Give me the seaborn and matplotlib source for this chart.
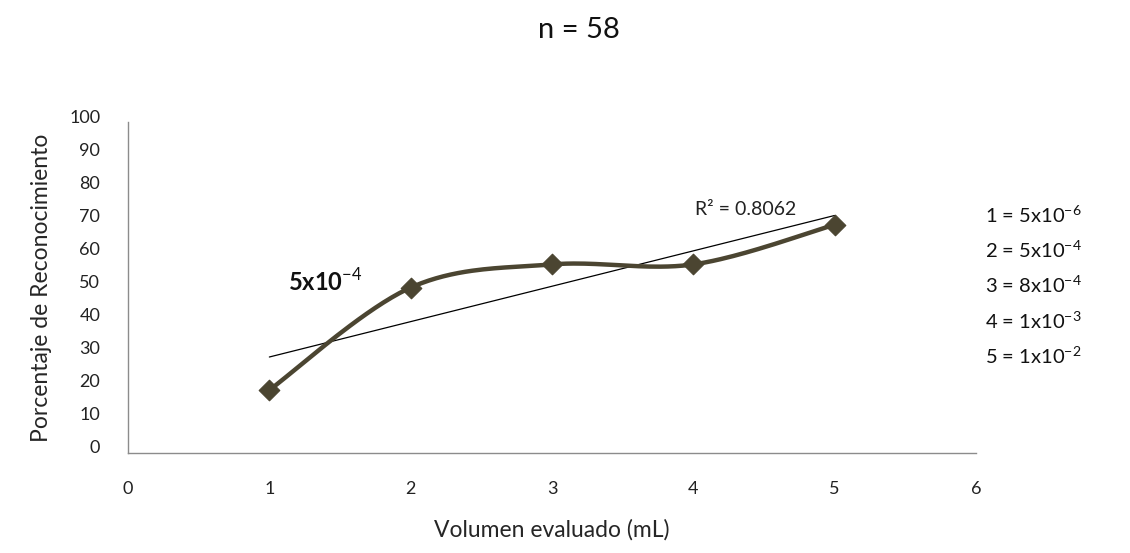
import numpy as np
import pandas as pd
import matplotlib
matplotlib.use("Agg")
import matplotlib.pyplot as plt
import matplotlib.transforms as mtransforms
import seaborn as sns

# data
volumen = [1, 2, 3, 4, 5]
reconocimiento = [19, 50, 57, 57, 69]
r2_text = "R² = 0.8062"
legend_lines = ["1 = 5x10$^{-6}$", "2 = 5x10$^{-4}$", "3 = 8x10$^{-4}$",
                "4 = 1x10$^{-3}$", "5 = 1x10$^{-2}$"]

line_color = "#4b4531"
axis_color = "#8c8c8c"

sns.set_style("white")
plt.rcParams["font.family"] = ["Lato", "DejaVu Sans"]
plt.rcParams["mathtext.fontset"] = "custom"
plt.rcParams["mathtext.rm"] = "Lato"


def smooth_curve(x, y, steps=40):
    # Catmull-Rom style bezier smoothing (like a spreadsheet "smoothed line")
    p = np.column_stack([x, y]).astype(float)
    pts = np.vstack([p[0], p, p[-1]])
    out = []
    for i in range(1, len(pts) - 2):
        p0, p1, p2, p3 = pts[i - 1], pts[i], pts[i + 1], pts[i + 2]
        c1 = p1 + (p2 - p0) / 6
        c2 = p2 - (p3 - p1) / 6
        t = np.linspace(0, 1, steps)[:, None]
        seg = ((1 - t) ** 3) * p1 + 3 * ((1 - t) ** 2) * t * c1 + 3 * (1 - t) * t ** 2 * c2 + t ** 3 * p2
        out.append(seg)
    out = np.vstack(out)
    return out[:, 0], out[:, 1]


df = pd.DataFrame({"x": volumen, "y": reconocimiento})
sx, sy = smooth_curve(volumen, reconocimiento)
curve = pd.DataFrame({"x": sx, "y": sy})

fig = plt.figure(figsize=(11.3, 5.53), dpi=100)
ax = fig.add_axes([0.1133, 0.181, 0.7504, 0.598])

sns.regplot(data=df, x="x", y="y", ax=ax, scatter=False, ci=None, truncate=True,
            line_kws={"color": "black", "linewidth": 0.9})
sns.lineplot(data=curve, x="x", y="y", ax=ax, color=line_color, linewidth=3.2,
             sort=False, estimator=None)
sns.scatterplot(data=df, x="x", y="y", ax=ax, marker="D", s=110, color=line_color,
                edgecolor=line_color, zorder=5)

ax.set_xlim(0, 6)
ax.set_ylim(0, 100)
ax.set_xticks(range(0, 7))
ax.set_yticks(range(0, 101, 10))
ax.set_xlabel("Volumen evaluado (mL)", fontsize=16.5, labelpad=16)
ax.set_ylabel("Porcentaje de Reconocimiento", fontsize=16.5, labelpad=12)

for side in ["top", "right"]:
    ax.spines[side].set_visible(False)
for side in ["left", "bottom"]:
    ax.spines[side].set_color(axis_color)
    ax.spines[side].set_linewidth(1.0)

ax.tick_params(axis="both", direction="in", length=7, width=1, color=axis_color,
               labelsize=13, labelcolor="#222222")
ax.tick_params(axis="x", pad=20)
ax.tick_params(axis="y", pad=20)
offset = mtransforms.ScaledTranslation(0, 6 / 100, fig.dpi_scale_trans)
for lab in ax.get_yticklabels():
    lab.set_transform(lab.get_transform() + offset)

ax.text(1.13, 52, "5x10$^{-4}$", fontsize=17, fontweight="bold", color="#111111",
        va="center")
ax.text(4.37, 73.5, r2_text, fontsize=14, color="#222222", ha="center", va="center")

for i, t in enumerate(legend_lines):
    fig.text(0.872, 0.611 - i * 0.0635, t, fontsize=14.5, color="#111111", va="center")

fig.text(0.512, 0.945, "n = 58", fontsize=21, ha="center", va="center", color="#111111")

fig.savefig("out.png", dpi=100, facecolor="white")
